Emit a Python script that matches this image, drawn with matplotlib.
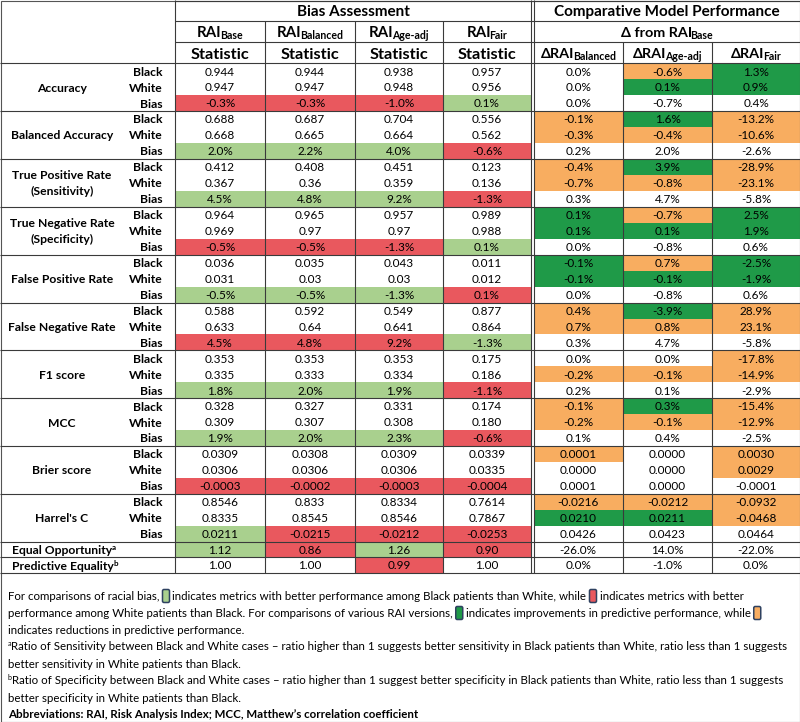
import matplotlib
matplotlib.use('Agg')
import matplotlib.pyplot as plt
from matplotlib.patches import Rectangle, FancyBboxPatch

FONT = ['Lato', 'DejaVu Sans']
plt.rcParams['font.family'] = FONT

# ---------------- data ----------------
metrics = ["Accuracy", "Balanced Accuracy", "True Positive Rate\n(Sensitivity)",
           "True Negative Rate\n(Specificity)", "False Positive Rate", "False Negative Rate",
           "F1 score", "MCC", "Brier score", "Harrel's C"]
groups = ["Black", "White", "Bias"]
bias_models = ["Base", "Balanced", "Age-adj", "Fair"]
delta_models = ["Balanced", "Age-adj", "Fair"]

# rows: Black, White, Bias ; columns: Base, Balanced, Age-adj, Fair
acc_vals = [["0.944", "0.944", "0.938", "0.957"], ["0.947", "0.947", "0.948", "0.956"], ["-0.3%", "-0.3%", "-1.0%", "0.1%"]]
bacc_vals = [["0.688", "0.687", "0.704", "0.556"], ["0.668", "0.665", "0.664", "0.562"], ["2.0%", "2.2%", "4.0%", "-0.6%"]]
tpr_vals = [["0.412", "0.408", "0.451", "0.123"], ["0.367", "0.36", "0.359", "0.136"], ["4.5%", "4.8%", "9.2%", "-1.3%"]]
tnr_vals = [["0.964", "0.965", "0.957", "0.989"], ["0.969", "0.97", "0.97", "0.988"], ["-0.5%", "-0.5%", "-1.3%", "0.1%"]]
fpr_vals = [["0.036", "0.035", "0.043", "0.011"], ["0.031", "0.03", "0.03", "0.012"], ["-0.5%", "-0.5%", "-1.3%", "0.1%"]]
fnr_vals = [["0.588", "0.592", "0.549", "0.877"], ["0.633", "0.64", "0.641", "0.864"], ["4.5%", "4.8%", "9.2%", "-1.3%"]]
f1_vals = [["0.353", "0.353", "0.353", "0.175"], ["0.335", "0.333", "0.334", "0.186"], ["1.8%", "2.0%", "1.9%", "-1.1%"]]
mcc_vals = [["0.328", "0.327", "0.331", "0.174"], ["0.309", "0.307", "0.308", "0.180"], ["1.9%", "2.0%", "2.3%", "-0.6%"]]
brier_vals = [["0.0309", "0.0308", "0.0309", "0.0339"], ["0.0306", "0.0306", "0.0306", "0.0335"], ["-0.0003", "-0.0002", "-0.0003", "-0.0004"]]
harrel_vals = [["0.8546", "0.833", "0.8334", "0.7614"], ["0.8335", "0.8545", "0.8546", "0.7867"], ["0.0211", "-0.0215", "-0.0212", "-0.0253"]]
bias_values = [acc_vals, bacc_vals, tpr_vals, tnr_vals, fpr_vals, fnr_vals, f1_vals, mcc_vals, brier_vals, harrel_vals]
# colour of bias row: G better among Black, R better among White
bias_flags = ["RRRG", "GGGR", "GGGR", "RRRG", "GGGR", "RRRG", "GGGR", "GGGR", "RRRR", "GRRR"]

equal_opp = ["1.12", "0.86", "1.26", "0.90"]
equal_opp_flags = "GRGR"
pred_eq = ["1.00", "1.00", "0.99", "1.00"]
pred_eq_flags = "--R-"

# delta from RAI_Base: rows Black, White, Bias ; columns dBalanced, dAge-adj, dFair
acc_d = [["0.0%", "-0.6%", "1.3%"], ["0.0%", "0.1%", "0.9%"], ["0.0%", "-0.7%", "0.4%"]]
bacc_d = [["-0.1%", "1.6%", "-13.2%"], ["-0.3%", "-0.4%", "-10.6%"], ["0.2%", "2.0%", "-2.6%"]]
tpr_d = [["-0.4%", "3.9%", "-28.9%"], ["-0.7%", "-0.8%", "-23.1%"], ["0.3%", "4.7%", "-5.8%"]]
tnr_d = [["0.1%", "-0.7%", "2.5%"], ["0.1%", "0.1%", "1.9%"], ["0.0%", "-0.8%", "0.6%"]]
fpr_d = [["-0.1%", "0.7%", "-2.5%"], ["-0.1%", "-0.1%", "-1.9%"], ["0.0%", "-0.8%", "0.6%"]]
fnr_d = [["0.4%", "-3.9%", "28.9%"], ["0.7%", "0.8%", "23.1%"], ["0.3%", "4.7%", "-5.8%"]]
f1_d = [["0.0%", "0.0%", "-17.8%"], ["-0.2%", "-0.1%", "-14.9%"], ["0.2%", "0.1%", "-2.9%"]]
mcc_d = [["-0.1%", "0.3%", "-15.4%"], ["-0.2%", "-0.1%", "-12.9%"], ["0.1%", "0.4%", "-2.5%"]]
brier_d = [["0.0001", "0.0000", "0.0030"], ["0.0000", "0.0000", "0.0029"], ["0.0001", "0.0000", "-0.0001"]]
harrel_d = [["-0.0216", "-0.0212", "-0.0932"], ["0.0210", "0.0211", "-0.0468"], ["0.0426", "0.0423", "0.0464"]]
delta_values = [acc_d, bacc_d, tpr_d, tnr_d, fpr_d, fnr_d, f1_d, mcc_d, brier_d, harrel_d]
# D improvement, O reduction, - none
delta_flags = [["-OD", "-DD", "---"], ["ODO", "OOO", "---"], ["ODO", "OOO", "---"],
               ["DOD", "DDD", "---"], ["DOD", "DDD", "---"], ["ODO", "OOO", "---"],
               ["--O", "OOO", "---"], ["ODO", "OOO", "---"], ["O-O", "--O", "---"],
               ["OOO", "DDO", "---"]]
equal_opp_d = ["-26.0%", "14.0%", "-22.0%"]
pred_eq_d = ["0.0%", "-1.0%", "0.0%"]

COLORS = {"R": "#E9585E", "G": "#A9D08E", "D": "#1F9A48", "O": "#F8AD60"}
LINE = "#3a3a3a"

# ---------------- figure ----------------
fig = plt.figure(figsize=(8, 7.22), dpi=100)
ax = fig.add_axes([0, 0, 1, 1])
ax.set_xlim(0, 800)
ax.set_ylim(722, 0)
ax.axis('off')
renderer = fig.canvas.get_renderer()

PX = 100 / 72.0


def measure(s, size, weight='normal'):
    t = ax.text(0, 0, s, fontsize=size, fontweight=weight)
    w = t.get_window_extent(renderer).width
    t.remove()
    return w


def runs_text(x, yc, runs, ha='center', color='black', tight=1.5):
    widths = [measure(s, sz, wt) for s, sz, wt, r in runs]
    total = sum(widths) - tight * (len(runs) - 1)
    if ha == 'center':
        x0 = x - total / 2
    elif ha == 'left':
        x0 = x
    else:
        x0 = x - total
    base = yc + 0.36 * runs[0][1] * PX
    for (s, sz, wt, rise), w in zip(runs, widths):
        ax.text(x0, base - rise, s, fontsize=sz, fontweight=wt, ha='left', va='baseline', color=color)
        x0 += w - tight
    return x0


def ctext(x, yc, s, size, weight='normal', ha='center'):
    base = yc + 0.36 * size * PX
    ax.text(x, base, s, fontsize=size, fontweight=weight, ha=ha, va='baseline')


def hline(y, x0, x1):
    ax.plot([x0, x1], [y, y], color=LINE, lw=0.8, solid_capstyle='butt')


def vline(x, y0, y1):
    ax.plot([x, x], [y0, y1], color=LINE, lw=0.8, solid_capstyle='butt')


bx = [175, 265, 355, 443, 531]          # bias assessment column edges
dx = [533.5, 623, 712, 800]             # delta column edges
bc = [(bx[i] + bx[i + 1]) / 2 for i in range(4)]
dc = [(dx[i] + dx[i + 1]) / 2 for i in range(3)]

h0, h1, h2, h3 = 0, 21, 42, 63.3
row_h = 15.95
n_rows = len(metrics) * 3
y_end = h3 + n_rows * row_h
y_eo = y_end + 15.6
y_pe = y_eo + 15.6


def fill(x0, x1, y0, y1, c):
    ax.add_patch(Rectangle((x0, y0), x1 - x0, y1 - y0, facecolor=COLORS[c], edgecolor='none', zorder=0))


DATA_SZ = 8.5
LAB_SZ = 8.7

# cells
for m in range(len(metrics)):
    for r in range(3):
        y0 = h3 + (m * 3 + r) * row_h
        y1 = y0 + row_h
        yc = (y0 + y1) / 2
        for c in range(4):
            if r == 2:
                fill(bx[c], bx[c + 1], y0, y1, bias_flags[m][c])
            ctext(bc[c], yc, bias_values[m][r][c], DATA_SZ)
        for c in range(3):
            f = delta_flags[m][r][c]
            if f != '-':
                fill(dx[c], dx[c + 1], y0, y1, f)
            ctext(dc[c], yc, delta_values[m][r][c], DATA_SZ)
        ctext(163, yc, groups[r], LAB_SZ, 'bold', ha='right')
    # metric label
    gyc = h3 + (m * 3 + 1.5) * row_h
    lines = metrics[m].split("\n")
    if len(lines) == 1:
        ctext(62, gyc, lines[0], LAB_SZ, 'bold')
    else:
        ctext(62, gyc - 7.8, lines[0], LAB_SZ, 'bold')
        ctext(62, gyc + 7.8, lines[1], LAB_SZ, 'bold')

for y0, y1, vals, flags, dvals, name, sup in [(y_end, y_eo, equal_opp, equal_opp_flags, equal_opp_d, "Equal Opportunity", "a"),
                                              (y_eo, y_pe, pred_eq, pred_eq_flags, pred_eq_d, "Predictive Equality", "b")]:
    yc = (y0 + y1) / 2
    for c in range(4):
        if flags[c] != '-':
            fill(bx[c], bx[c + 1], y0, y1, flags[c])
        ctext(bc[c], yc, vals[c], DATA_SZ)
    for c in range(3):
        ctext(dc[c], yc, dvals[c], DATA_SZ)
    runs_text(12, yc, [(name, LAB_SZ, 'bold', 0), (sup, 5.8, 'bold', 3.5)], ha='left', tight=0.5)

# headers
HS = 11.0
ctext((bx[0] + bx[4]) / 2, (h0 + h1) / 2, "Bias Assessment", HS, 'bold')
ctext((dx[0] + dx[3]) / 2, (h0 + h1) / 2, "Comparative Model Performance", HS, 'bold')
runs_text((dx[0] + dx[3]) / 2, (h1 + h2) / 2, [("Δ from RAI", 10.4, 'bold', 0), ("Base", 7.6, 'bold', -2.2)])
for c in range(4):
    runs_text(bc[c], (h1 + h2) / 2, [("RAI", 10.8, 'bold', 0), (bias_models[c], 7.6, 'bold', -2.2)])
    ctext(bc[c], (h2 + h3) / 2, "Statistic", 11.8, 'bold')
for c in range(3):
    runs_text(dc[c], (h2 + h3) / 2, [("ΔRAI", 10.4, 'bold', 0), (delta_models[c], 7.6, 'bold', -2.2)])

# grid lines
hline(h0 + 0.5, bx[0], 800)
hline(h1, bx[0], 800)
hline(h2, bx[0], 800)
hline(h3, 0, 800)
for m in range(1, len(metrics) + 1):
    hline(h3 + m * 3 * row_h, 0, 800)
hline(y_eo, 0, 800)
hline(y_pe, 0, 800)
vline(bx[0], h0, y_pe)
for x in bx[1:4]:
    vline(x, h1, y_pe)
vline(531, h0, y_pe)
vline(533.5, h0, y_pe)
for x in dx[1:3]:
    vline(x, h2, y_pe)

# ---------------- footnotes ----------------
fn_lines_y = [596, 613, 630, 647, 664, 681, 697.5, 714]
ref = "Ratio of Sensitivity between Black and White cases – ratio higher than 1 suggests better sensitivity in Black patients than White, ratio less than 1 suggests"
FS = 10 * 773 / measure(ref, 10)
FX = 8


def box(x, yc, c):
    ax.add_patch(FancyBboxPatch((x, yc - 6.5), 7, 13, boxstyle="round,pad=0,rounding_size=1.5",
                                facecolor=COLORS[c], edgecolor='#2E4160', lw=1.1))


def fn_segments(yc, segs):
    x = FX
    for s in segs:
        if isinstance(s, tuple):
            box(x + 3, yc, s[0])
            x += 13
        else:
            ctext(x, yc, s, FS, ha='left')
            x += measure(s, FS)


fn_segments(fn_lines_y[0], ["For comparisons of racial bias,", ("G",),
                            "indicates metrics with better performance among Black patients than White, while", ("R",),
                            "indicates metrics with better"])
fn_segments(fn_lines_y[1], ["performance among White patients than Black. For comparisons of various RAI versions,", ("D",),
                            "indicates improvements in predictive performance, while", ("O",)])
ctext(FX, fn_lines_y[2], "indicates reductions in predictive performance.", FS, ha='left')
runs_text(FX, fn_lines_y[3], [("a", FS * 0.62, 'normal', 4), (ref, FS, 'normal', 0)], ha='left', tight=0.5)
ctext(FX, fn_lines_y[4], "better sensitivity in White patients than Black.", FS, ha='left')
runs_text(FX, fn_lines_y[5], [("b", FS * 0.62, 'normal', 4),
                              ("Ratio of Specificity between Black and White cases – ratio higher than 1 suggest better specificity in Black patients than White, ratio less than 1 suggests", FS, 'normal', 0)], ha='left', tight=0.5)
ctext(FX, fn_lines_y[6], "better specificity in White patients than Black.", FS, ha='left')
ctext(FX, fn_lines_y[7], "Abbreviations: RAI, Risk Analysis Index; MCC, Matthew’s correlation coefficient", FS, 'bold', ha='left')

# outer frame
ax.add_patch(Rectangle((0.5, 0.5), 799, 721, facecolor='none', edgecolor='#555555', lw=0.8))

fig.savefig("out.png", dpi=100)
